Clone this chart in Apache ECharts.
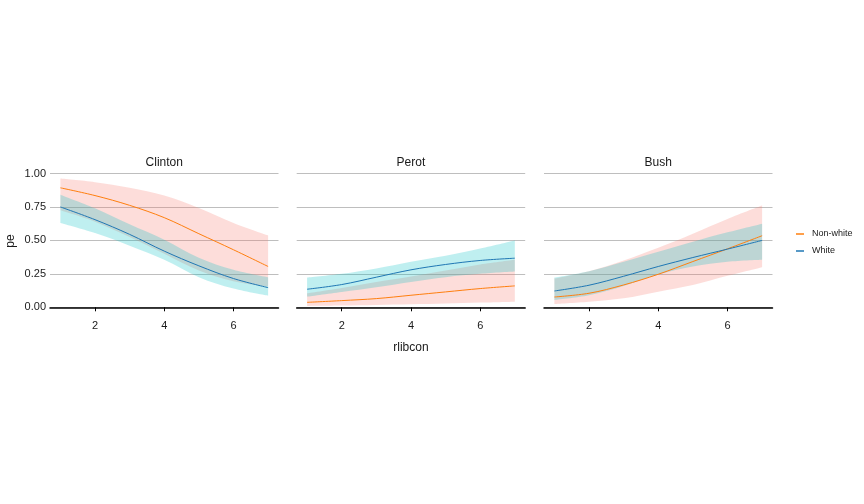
<!DOCTYPE html>
<html>
<head>
<meta charset="utf-8">
<script src="https://cdn.jsdelivr.net/npm/echarts@6/dist/echarts.min.js"></script>
<style>
html,body{margin:0;padding:0;background:#fff;}
#chart{width:864px;height:504px;}
</style>
</head>
<body>
<div id="chart"></div>
<script>
// ---- data ----
var panels = ['Clinton', 'Perot', 'Bush'];
var groups = ['Non-white', 'White'];
var xs = [1, 2, 3, 4, 5, 6, 7];
var xTicks = [2, 4, 6];
var yTicks = [0, 0.25, 0.5, 0.75, 1];

// Clinton
var clintonNonwhite   = [0.893, 0.835, 0.762, 0.670, 0.550, 0.430, 0.305];
var clintonNonwhiteLo = [0.725, 0.640, 0.525, 0.400, 0.275, 0.195, 0.155];
var clintonNonwhiteHi = [0.962, 0.935, 0.893, 0.835, 0.742, 0.630, 0.537];
var clintonWhite      = [0.750, 0.655, 0.545, 0.420, 0.310, 0.215, 0.147];
var clintonWhiteLo    = [0.630, 0.555, 0.460, 0.355, 0.225, 0.140, 0.087];
var clintonWhiteHi    = [0.842, 0.740, 0.620, 0.505, 0.370, 0.280, 0.224];
// Perot
var perotNonwhite   = [0.037, 0.050, 0.065, 0.090, 0.115, 0.140, 0.160];
var perotNonwhiteLo = [0.010, 0.013, 0.018, 0.022, 0.028, 0.035, 0.042];
var perotNonwhiteHi = [0.105, 0.145, 0.190, 0.230, 0.275, 0.320, 0.355];
var perotWhite      = [0.135, 0.170, 0.225, 0.280, 0.320, 0.350, 0.367];
var perotWhiteLo    = [0.080, 0.115, 0.150, 0.190, 0.225, 0.250, 0.267];
var perotWhiteHi    = [0.222, 0.250, 0.290, 0.340, 0.385, 0.440, 0.500];
// Bush
var bushNonwhite   = [0.077, 0.105, 0.167, 0.247, 0.342, 0.437, 0.535];
var bushNonwhiteLo = [0.025, 0.042, 0.067, 0.117, 0.167, 0.235, 0.300];
var bushNonwhiteHi = [0.215, 0.270, 0.350, 0.445, 0.550, 0.660, 0.760];
var bushWhite      = [0.122, 0.165, 0.232, 0.305, 0.372, 0.435, 0.500];
var bushWhiteLo    = [0.055, 0.090, 0.160, 0.245, 0.305, 0.340, 0.355];
var bushWhiteHi    = [0.222, 0.270, 0.340, 0.415, 0.490, 0.560, 0.625];

var lineColors = {'Non-white': '#FF7F0E', 'White': '#1F77B4'};
var fillColors = {'Non-white': 'rgba(248,118,109,0.25)', 'White': 'rgba(0,191,196,0.25)'};

var panelData = [
  {'Non-white': [clintonNonwhite, clintonNonwhiteLo, clintonNonwhiteHi], 'White': [clintonWhite, clintonWhiteLo, clintonWhiteHi]},
  {'Non-white': [perotNonwhite, perotNonwhiteLo, perotNonwhiteHi], 'White': [perotWhite, perotWhiteLo, perotWhiteHi]},
  {'Non-white': [bushNonwhite, bushNonwhiteLo, bushNonwhiteHi], 'White': [bushWhite, bushWhiteLo, bushWhiteHi]}
];

// ---- layout ----
var gridLefts = [50, 296.7, 544];
var gridW = 228.5;
var gridTop = 173.5;
var gridH = 133.8;
var FONT = '"Liberation Sans", Arial, sans-serif';
var TXT = '#1a1a1a';
var SMOOTH = 0.35;

// value-first rows [y, x] so that the stack is applied to the y value
function rows(arr) { return xs.map(function (x, i) { return [arr[i], x]; }); }
function diffRows(lo, hi) { return xs.map(function (x, i) { return [hi[i] - lo[i], x]; }); }

var grids = [], xAxes = [], yAxes = [], series = [], graphics = [];
panels.forEach(function (name, p) {
  grids.push({left: gridLefts[p], top: gridTop, width: gridW, height: gridH, containLabel: false});
  xAxes.push({
    type: 'value', gridIndex: p, min: 0.7, max: 7.3, offset: 6,
    axisLine: {show: true, lineStyle: {color: '#000', width: 1.5}},
    axisTick: {show: true, customValues: xTicks, length: 4, lineStyle: {color: '#000', width: 1}},
    axisLabel: {show: true, customValues: xTicks, color: TXT, fontSize: 11, fontFamily: FONT, margin: 7},
    splitLine: {show: false}
  });
  yAxes.push({
    type: 'value', gridIndex: p, min: 0, max: 1, interval: 0.25,
    axisLine: {show: false}, axisTick: {show: false},
    axisLabel: {show: p === 0, color: TXT, fontSize: 11, fontFamily: FONT, margin: 4,
      formatter: function (v) { return v.toFixed(2); }},
    splitLine: {show: true, lineStyle: {color: '#BEBEBE', width: 1}}
  });
  // lines first (drawn under ribbons)
  groups.forEach(function (g) {
    series.push({
      type: 'line', name: g, xAxisIndex: p, yAxisIndex: p,
      data: rows(panelData[p][g][0]), encode: {x: 1, y: 0},
      smooth: SMOOTH, showSymbol: false, symbol: 'none',
      color: lineColors[g],
      lineStyle: {color: lineColors[g], width: 1}, itemStyle: {color: lineColors[g]},
      silent: true, z: 2
    });
  });
  // ribbons (stacked: lower bound + band width)
  groups.forEach(function (g) {
    var lo = panelData[p][g][1], hi = panelData[p][g][2];
    var st = 'rib' + p + g;
    series.push({
      type: 'line', name: g + ' lo', xAxisIndex: p, yAxisIndex: p, stack: st,
      data: rows(lo), encode: {x: 1, y: 0},
      smooth: SMOOTH, symbol: 'none', showSymbol: false,
      lineStyle: {opacity: 0, width: 0}, silent: true, z: 2
    });
    series.push({
      type: 'line', name: g + ' band', xAxisIndex: p, yAxisIndex: p, stack: st,
      data: diffRows(lo, hi), encode: {x: 1, y: 0},
      smooth: SMOOTH, symbol: 'none', showSymbol: false,
      lineStyle: {opacity: 0, width: 0}, areaStyle: {color: fillColors[g], opacity: 1},
      silent: true, z: 2
    });
  });
  graphics.push({
    type: 'text', x: gridLefts[p] + gridW / 2, y: 162.5,
    style: {text: name, fill: TXT, font: '12px ' + FONT, textAlign: 'center', textVerticalAlign: 'middle'}
  });
});

graphics.push({
  type: 'text', x: gridLefts[1] + gridW / 2, y: 347.5,
  style: {text: 'rlibcon', fill: TXT, font: '12px ' + FONT, textAlign: 'center', textVerticalAlign: 'middle'}
});
graphics.push({
  type: 'text', x: 11, y: 241, rotation: Math.PI / 2,
  style: {text: 'pe', fill: TXT, font: '12px ' + FONT, textAlign: 'center', textVerticalAlign: 'middle'}
});

var chart = echarts.init(document.getElementById('chart'), null, {renderer: 'canvas'});
chart.setOption({
  animation: false,
  backgroundColor: '#fff',
  grid: grids,
  xAxis: xAxes,
  yAxis: yAxes,
  legend: {
    orient: 'vertical', left: 796, top: 229.5, itemGap: 8, padding: 0,
    itemWidth: 8, itemHeight: 1.5, icon: 'rect', selectedMode: false,
    textStyle: {color: TXT, fontSize: 9, fontFamily: FONT, padding: [0, 0, 0, 3]},
    data: groups.map(function (g) {
      return {name: g, itemStyle: {color: lineColors[g], borderWidth: 0}, lineStyle: {color: lineColors[g]}};
    })
  },
  graphic: graphics,
  series: series
});
</script>
</body>
</html>
